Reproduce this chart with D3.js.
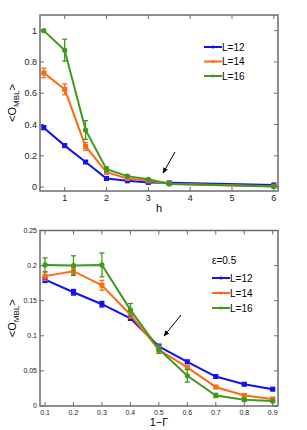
<!DOCTYPE html>
<html>
<head>
<meta charset="utf-8">
<script src="https://cdn.jsdelivr.net/npm/d3@7"></script>
<style>
  body { margin: 0; background: #fff; }
  svg { display: block; font-family: "Liberation Sans", Arial, sans-serif; }
</style>
</head>
<body>
<div id="chart"></div>
<script>
// top panel: <O_MBL> vs h
const hVals = [0.5, 1, 1.5, 2, 2.5, 3, 3.5, 6];
const topL12 = [0.38, 0.265, 0.16, 0.055, 0.04, 0.03, 0.027, 0.014];
const topL14 = [0.73, 0.625, 0.26, 0.095, 0.055, 0.04, 0.022, 0.006];
const topL16 = [1.0, 0.875, 0.365, 0.115, 0.07, 0.05, 0.02, 0.003];
const topErr12 = [0.012, 0.01, 0.008, 0.006, 0.004, 0.004, 0.003, 0.002];
const topErr14 = [0.03, 0.035, 0.025, 0.01, 0.006, 0.005, 0.003, 0.002];
const topErr16 = [0, 0.07, 0.06, 0.015, 0.006, 0.005, 0.003, 0.002];
const topXTicks = [1, 2, 3, 4, 5, 6];
const topYTicks = [0, 0.2, 0.4, 0.6, 0.8, 1];

// bottom panel: <O_MBL> vs 1-Gamma
const gVals = [0.1, 0.2, 0.3, 0.4, 0.5, 0.6, 0.7, 0.8, 0.9];
const botL12 = [0.18, 0.162, 0.145, 0.125, 0.085, 0.063, 0.042, 0.031, 0.024];
const botL14 = [0.185, 0.192, 0.172, 0.13, 0.08, 0.055, 0.027, 0.015, 0.01];
const botL16 = [0.201, 0.2, 0.201, 0.137, 0.081, 0.043, 0.015, 0.009, 0.007];
const botErr12 = [0.004, 0.004, 0.004, 0.003, 0.003, 0.002, 0.002, 0.002, 0.002];
const botErr14 = [0.006, 0.005, 0.007, 0.005, 0.005, 0.003, 0.002, 0.002, 0.002];
const botErr16 = [0.01, 0.014, 0.017, 0.009, 0.006, 0.009, 0.003, 0.002, 0.002];
const botXTicks = [0.1, 0.2, 0.3, 0.4, 0.5, 0.6, 0.7, 0.8, 0.9];
const botYTicks = [0, 0.05, 0.1, 0.15, 0.2, 0.25];

const labels = ["L=12", "L=14", "L=16"];
const colors = ["#1212f0", "#ff6a10", "#3c9a1c"];
const axisColor = "#6b6b6b";

const svg = d3.select("#chart").append("svg")
    .attr("width", 307)
    .attr("height", 430);

// arrow marker
svg.append("defs").append("marker")
    .attr("id", "arrow")
    .attr("viewBox", "0 0 10 10")
    .attr("refX", 9).attr("refY", 5)
    .attr("markerWidth", 6).attr("markerHeight", 6)
    .attr("orient", "auto")
    .append("path")
    .attr("d", "M0,1 L10,5 L0,9 Z")
    .attr("fill", "#000");

function panel(opts) {
    const x = d3.scaleLinear().domain(opts.xDomain).range([40, 278]);
    const y = d3.scaleLinear().domain(opts.yDomain).range([opts.bottom, opts.top]);
    const g = svg.append("g");

    // frame
    g.append("rect")
        .attr("x", 40).attr("y", opts.top)
        .attr("width", 238).attr("height", opts.bottom - opts.top)
        .attr("fill", "none")
        .attr("stroke", axisColor)
        .attr("stroke-width", 1.5);

    // inward ticks on all four sides
    opts.xTicks.forEach(t => {
        g.append("line").attr("x1", x(t)).attr("x2", x(t))
            .attr("y1", opts.bottom).attr("y2", opts.bottom - 4)
            .attr("stroke", axisColor).attr("stroke-width", 1);
        g.append("line").attr("x1", x(t)).attr("x2", x(t))
            .attr("y1", opts.top).attr("y2", opts.top + 4)
            .attr("stroke", axisColor).attr("stroke-width", 1);
        g.append("text").attr("x", x(t)).attr("y", opts.bottom + opts.xTickDy)
            .attr("text-anchor", "middle")
            .attr("font-size", opts.tickSize)
            .attr("fill", "#222")
            .text(opts.xFmt(t));
    });
    opts.yTicks.forEach(t => {
        g.append("line").attr("x1", 40).attr("x2", 44)
            .attr("y1", y(t)).attr("y2", y(t))
            .attr("stroke", axisColor).attr("stroke-width", 1);
        g.append("line").attr("x1", 278).attr("x2", 274)
            .attr("y1", y(t)).attr("y2", y(t))
            .attr("stroke", axisColor).attr("stroke-width", 1);
        g.append("text").attr("x", 37).attr("y", y(t))
            .attr("dy", "0.35em")
            .attr("text-anchor", "end")
            .attr("font-size", opts.tickSize)
            .attr("fill", "#222")
            .text(opts.yFmt(t));
    });

    // axis labels
    g.append("text").attr("x", 159).attr("y", opts.xLabelY)
        .attr("text-anchor", "middle")
        .attr("font-size", 11)
        .text(opts.xLabel);
    const yl = g.append("text")
        .attr("transform", `translate(16,${(opts.top + opts.bottom) / 2}) rotate(-90)`)
        .attr("text-anchor", "middle")
        .attr("font-size", 11);
    yl.append("tspan").text("<O");
    yl.append("tspan").attr("font-size", 8).attr("dy", 3).text("MBL");
    yl.append("tspan").attr("dy", -3).text(">");

    const line = d3.line().x(d => x(d[0])).y(d => y(d[1]));

    opts.series.forEach((s, i) => {
        const pts = opts.xs.map((v, j) => [v, s.vals[j], s.err[j]]);
        const sg = g.append("g");
        // error bars
        pts.forEach(p => {
            if (p[2] <= 0) return;
            const px = x(p[0]);
            sg.append("line").attr("x1", px).attr("x2", px)
                .attr("y1", y(p[1] - p[2])).attr("y2", y(p[1] + p[2]))
                .attr("stroke", colors[i]).attr("stroke-width", 1.3);
            [p[1] - p[2], p[1] + p[2]].forEach(v => {
                sg.append("line").attr("x1", px - 2.5).attr("x2", px + 2.5)
                    .attr("y1", y(v)).attr("y2", y(v))
                    .attr("stroke", colors[i]).attr("stroke-width", 1.3);
            });
        });
        sg.append("path").datum(pts)
            .attr("d", line)
            .attr("fill", "none")
            .attr("stroke", colors[i])
            .attr("stroke-width", 2);
        pts.forEach(p => {
            if (i < 2) {
                sg.append("rect")
                    .attr("x", x(p[0]) - 2.5).attr("y", y(p[1]) - 2.5)
                    .attr("width", 5).attr("height", 5)
                    .attr("fill", colors[i]);
            } else {
                sg.append("circle")
                    .attr("cx", x(p[0])).attr("cy", y(p[1]))
                    .attr("r", 2.6)
                    .attr("fill", colors[i]);
            }
        });
    });

    // legend
    if (opts.legendTitle) {
        g.append("text").attr("x", opts.legendX).attr("y", opts.legendTitleY)
            .attr("dy", "0.35em")
            .attr("font-size", 10)
            .text(opts.legendTitle);
    }
    labels.forEach((lab, i) => {
        const ly = opts.legendY + i * opts.legendGap;
        g.append("line")
            .attr("x1", opts.legendX).attr("x2", opts.legendX + 18)
            .attr("y1", ly).attr("y2", ly)
            .attr("stroke", colors[i]).attr("stroke-width", 2);
        g.append("circle").attr("cx", opts.legendX + 9).attr("cy", ly)
            .attr("r", 1.5).attr("fill", colors[i]);
        g.append("text").attr("x", opts.legendX + 18).attr("y", ly)
            .attr("dy", "0.35em")
            .attr("font-size", 10)
            .text(lab);
    });

    // arrow
    g.append("line")
        .attr("x1", opts.arrow[0]).attr("y1", opts.arrow[1])
        .attr("x2", opts.arrow[2]).attr("y2", opts.arrow[3])
        .attr("stroke", "#000").attr("stroke-width", 1)
        .attr("marker-end", "url(#arrow)");
}

panel({
    xDomain: [0.41, 6.1], yDomain: [-0.025, 1.1],
    top: 15, bottom: 191,
    xTicks: topXTicks, yTicks: topYTicks,
    xFmt: d3.format("d"), yFmt: d => d === 0 ? "0" : d3.format("~g")(d),
    tickSize: 9, xTickDy: 10, xLabelY: 212, xLabel: "h",
    xs: hVals,
    series: [
        { vals: topL12, err: topErr12 },
        { vals: topL14, err: topErr14 },
        { vals: topL16, err: topErr16 }
    ],
    legendX: 204, legendY: 47, legendGap: 14.5,
    arrow: [175, 152, 163, 173]
});

panel({
    xDomain: [0.0824, 0.9186], yDomain: [0, 0.25],
    top: 230.5, bottom: 406,
    xTicks: botXTicks, yTicks: botYTicks,
    xFmt: d3.format(".1f"), yFmt: d => d === 0 ? "0" : d3.format("~g")(d),
    tickSize: 7, xTickDy: 9, xLabelY: 426, xLabel: "1\u2212\u0393",
    xs: gVals,
    series: [
        { vals: botL12, err: botErr12 },
        { vals: botL14, err: botErr14 },
        { vals: botL16, err: botErr16 }
    ],
    legendTitle: "\u03b5=0.5", legendTitleY: 260,
    legendX: 212, legendY: 278, legendGap: 15,
    arrow: [181, 315, 164, 336]
});
</script>
</body>
</html>
